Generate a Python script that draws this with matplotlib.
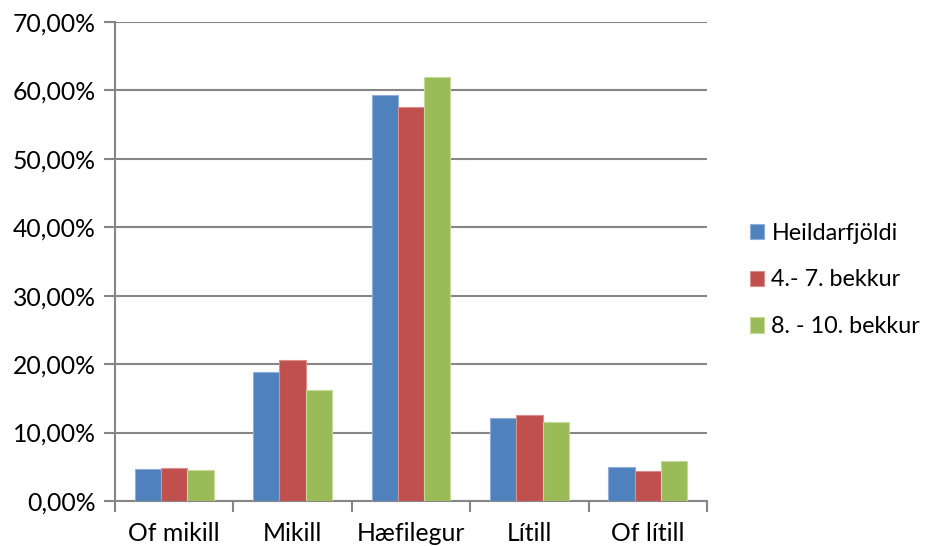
import matplotlib
matplotlib.use("Agg")
import matplotlib.pyplot as plt
import numpy as np
from matplotlib.ticker import FuncFormatter, MultipleLocator, FixedLocator

categories = ["Of mikill", "Mikill", "Hæfilegur", "Lítill", "Of lítill"]
series_names = ["Heildarfjöldi", "4.- 7. bekkur", "8. - 10. bekkur"]
heildarfjoldi = [4.7, 18.9, 59.3, 12.1, 5.0]
bekkur_4_7 = [4.8, 20.6, 57.6, 12.5, 4.4]
bekkur_8_10 = [4.6, 16.2, 61.9, 11.5, 5.8]
colors = ["#4F81BD", "#C0504D", "#9BBB59"]
edge_colors = ["#8EAEDB", "#DC8E8C", "#C4DA98"]

plt.rcParams['font.family'] = ['Lato', 'DejaVu Sans']
FS = 17.8
LFS = 16.8

fig = plt.figure(figsize=(9.27, 5.46), dpi=100)
ax = fig.add_axes([115/927, 1-501/546, 592/927, 479/546])

x = np.arange(len(categories))
w = 1/4.5
for i, (vals, name) in enumerate(zip([heildarfjoldi, bekkur_4_7, bekkur_8_10], series_names)):
    ax.bar(x + (i-1)*w, vals, width=w, color=colors[i], edgecolor=edge_colors[i],
           linewidth=0.8, label=name, zorder=3)

ax.set_xlim(-0.5, len(categories)-0.5)
ax.set_ylim(0, 70)
ax.yaxis.set_major_locator(MultipleLocator(10))
ax.yaxis.set_major_formatter(FuncFormatter(lambda v, p: f"{v:.2f}".replace(".", ",") + "%"))
ax.grid(axis='y', color="#868686", linewidth=1.5, zorder=0)
ax.set_axisbelow(True)

ax.set_xticks(x)
ax.set_xticklabels(categories)
ax.xaxis.set_minor_locator(FixedLocator(np.arange(-0.5, len(categories), 1.0)))
ax.tick_params(axis='x', which='major', length=0, pad=15, labelsize=FS)
ax.tick_params(axis='x', which='minor', length=8, width=1.5, color="#868686")
ax.tick_params(axis='y', which='major', length=8, width=1.5, color="#868686", pad=6, labelsize=FS)

for s in ['top', 'right']:
    ax.spines[s].set_visible(False)
for s in ['left', 'bottom']:
    ax.spines[s].set_color("#868686")
    ax.spines[s].set_linewidth(1.5)

fig.legend(loc='center left', bbox_to_anchor=(750/927, 1-280/546), frameon=False,
           fontsize=LFS, handlelength=0.62, handleheight=0.62, handletextpad=0.3,
           labelspacing=1.1, borderpad=0, borderaxespad=0)

fig.savefig("out.png", dpi=100)
